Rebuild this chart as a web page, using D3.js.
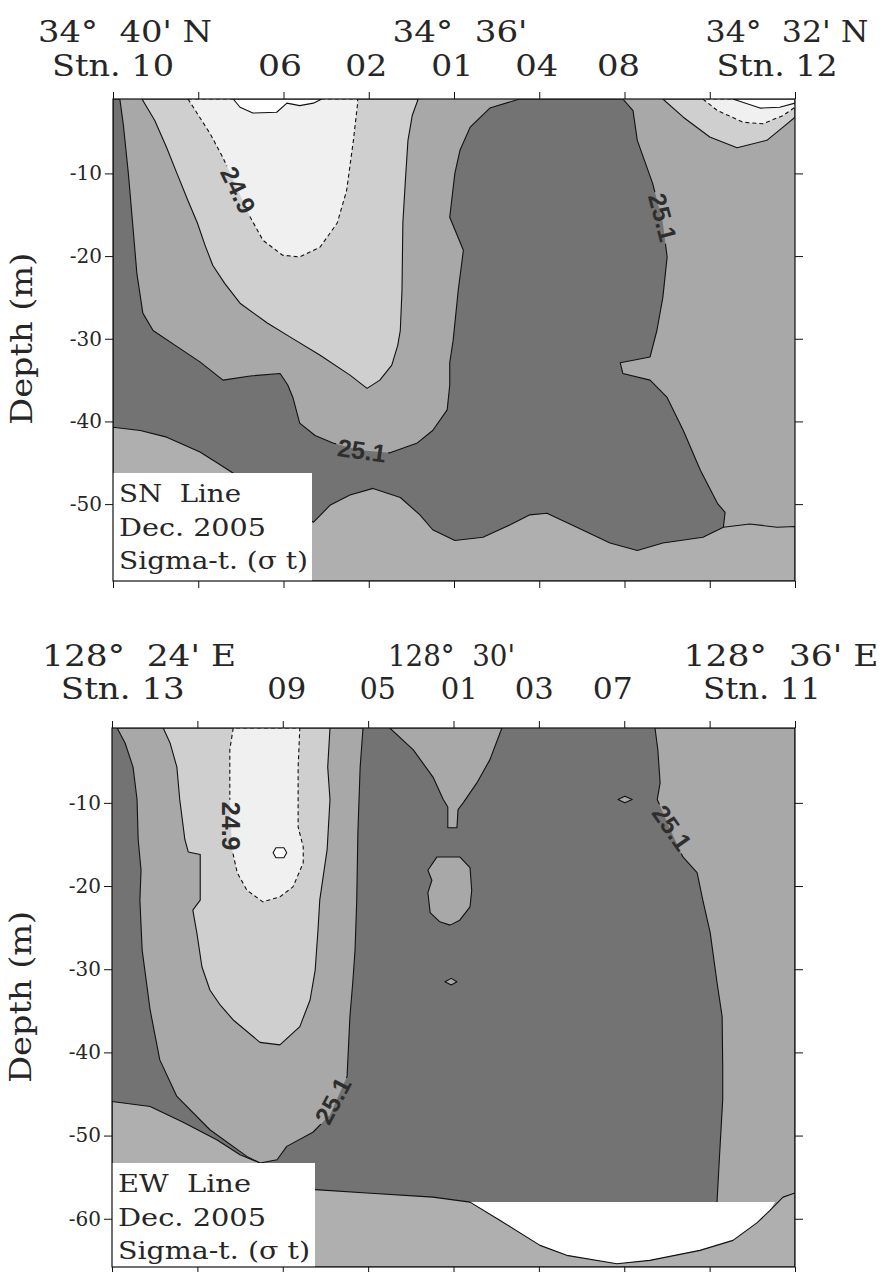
<!DOCTYPE html>
<html>
<head>
<meta charset="utf-8">
<script src="https://cdn.jsdelivr.net/npm/d3@7/dist/d3.min.js"></script>
<style>
  html, body { margin: 0; padding: 0; background: #fff; }
  svg { display: block; }
  text { white-space: pre; }
</style>
</head>
<body>
<svg id="chart" width="885" height="1272"></svg>
<script>
// ================= SN line (meridional section, latitude minutes past 34°N) =================
const snStationNames = ["Stn. 10", "06", "02", "01", "04", "08", "Stn. 12"];
const snStationLat   = [40.0, 38.04, 37.03, 36.02, 35.03, 34.07, 32.21];
const snCoordNames   = ["34°  40' N", "34°  36'", "34°  32' N"];
const snCoordLat     = [40, 36, 32];
const snDepthTicks   = [-10, -20, -30, -40, -50];
const snLegend       = ["SN  Line", "Dec. 2005", "Sigma-t. (σ t)"];

// isopycnal regions, points are [latitude minutes, depth m]
const snSigma251 = [[40,-1],[39.92,-1],[39.88,-4.0],[39.82,-10.0],[39.77,-16.0],[39.72,-22.1],[39.65,-26.9],
  [39.53,-29.0],[39.27,-30.8],[38.98,-32.8],[38.71,-35.0],[38.39,-34.5],[38.04,-34.2],[37.95,-35.6],
  [37.89,-37.1],[37.81,-40.2],[37.63,-41.7],[37.42,-42.6],[37.10,-43.5],[36.75,-43.8],[36.43,-42.6],
  [36.25,-41.1],[36.08,-38.6],[36.05,-35.6],[36.05,-32.9],[36.01,-30.2],[35.95,-24.1],[35.89,-19.3],
  [36.05,-15.3],[35.99,-10.0],[35.93,-7.2],[35.81,-4.4],[35.58,-2.1],[35.23,-1],[34.02,-1],[33.90,-2.4],
  [33.85,-6.0],[33.67,-11.2],[33.55,-16.0],[33.50,-20.1],[33.55,-25.0],[33.62,-29.0],[33.70,-32.2],
  [34.05,-32.9],[34.02,-34.2],[33.70,-35.0],[33.50,-37.1],[33.31,-41.1],[33.11,-45.9],[32.91,-49.9],
  [32.82,-51.0],[32.84,-52.8],[32.84,-59.3],[40,-59.3]];
const snSigma252 = [[40,-40.7],[39.68,-41.1],[39.37,-41.9],[38.98,-43.7],[38.78,-45.0],[38.28,-48.3],
  [37.81,-51.0],[37.65,-52.2],[37.45,-50.1],[37.22,-48.9],[36.95,-48.1],[36.63,-49.2],[36.40,-51.3],
  [36.25,-53.1],[35.99,-54.4],[35.66,-54.0],[35.34,-52.5],[35.11,-51.3],[34.91,-51.1],[34.56,-52.8],
  [34.17,-54.7],[33.85,-55.6],[33.55,-54.7],[33.08,-54.0],[32.84,-52.8],[32.53,-52.4],[32.21,-52.8],
  [32,-52.7],[32,-59.3],[40,-59.3]];
const snSigma250West = [[39.66,-1],[39.51,-3.6],[39.37,-6.9],[39.25,-10.0],[39.12,-13.3],[39.01,-16.0],
  [38.92,-18.7],[38.83,-21.1],[38.69,-23.3],[38.51,-25.7],[38.19,-28.1],[37.92,-29.8],[37.57,-32.0],
  [37.22,-34.4],[37.02,-36.0],[36.87,-35.0],[36.73,-33.2],[36.66,-30.8],[36.63,-29.0],[36.61,-24.1],
  [36.60,-16.0],[36.57,-10.8],[36.54,-6.0],[36.49,-3.0],[36.42,-1]];
const snSigma250East = [[33.55,-1],[33.31,-3.2],[33.00,-5.6],[32.68,-6.9],[32.33,-6.0],[32.14,-4.4],
  [32,-3.2],[32,-1]];
const snSigma249West = [[39.12,-1],[38.86,-5.2],[38.71,-8.1],[38.55,-11.7],[38.39,-15.3],[38.24,-18.1],
  [38.01,-19.9],[37.81,-20.1],[37.57,-18.9],[37.37,-16.0],[37.26,-12.1],[37.18,-6.0],[37.13,-1.5],[37.13,-1]];
const snSigma249East = [[33.08,-1],[32.91,-2.4],[32.61,-3.8],[32.38,-4.0],[32.14,-3.0],[32,-2.0],[32,-1]];
const snSigma248West = [[38.59,-1],[38.51,-2.0],[38.36,-2.7],[38.08,-2.6],[37.96,-1.5],[37.81,-1.8],
  [37.65,-1.5],[37.55,-1]];
const snSigma248East = [[32.73,-1],[32.41,-2.1],[32.18,-2.0],[32,-1.5],[32,-1]];
// contour labels: [sigma-t, latitude minutes, depth m]
const snContourLabels = [[24.9, 38.53, -12.0], [25.1, 33.55, -15.3], [25.1, 37.08, -43.5]];

// ================= EW line (zonal section, longitude minutes past 128°E) =================
const ewStationNames = ["Stn. 13", "09", "05", "01", "03", "07", "Stn. 11"];
const ewStationLon   = [24.19, 27.07, 28.67, 30.10, 31.42, 32.80, 35.42];
const ewCoordNames   = ["128°  24' E", "128°  30'", "128°  36' E"];
const ewCoordLon     = [24, 30, 36];
const ewDepthTicks   = [-10, -20, -30, -40, -50, -60];
const ewLegend       = ["EW  Line", "Dec. 2005", "Sigma-t. (σ t)"];

const ewSigma251Trough = [[24.09,-1.0],[24.23,-2.8],[24.37,-5.7],[24.44,-9.6],[24.46,-14.4],[24.51,-18.1],
  [24.49,-21.7],[24.53,-27.7],[24.67,-34.9],[24.84,-40.9],[25.14,-45.3],[25.72,-49.3],[26.37,-52.5],
  [26.60,-53.3],[26.90,-52.9],[27.07,-51.3],[27.53,-49.6],[27.83,-47.5],[28.13,-42.9],[28.18,-35.7],
  [28.23,-31.6],[28.27,-27.7],[28.30,-21.7],[28.32,-13.6],[28.36,-5.7],[28.41,-1.0]];
const ewSigma251Notch = [[28.88,-1],[29.29,-3.6],[29.64,-6.9],[29.82,-9.6],[29.90,-10.5],[29.90,-13.0],
  [30.06,-13.0],[30.08,-10.8],[30.17,-10.0],[30.41,-7.6],[30.64,-4.8],[30.85,-1]];
const ewSigma251Patch = [[29.71,-16.5],[30.11,-16.5],[30.29,-17.8],[30.32,-20.5],[30.29,-22.5],[30.11,-24.1],
  [29.94,-24.7],[29.76,-24.3],[29.59,-23.2],[29.55,-20.8],[29.62,-19.3],[29.55,-18.1]];
const ewSigma251East = [[33.54,-1],[33.59,-3.6],[33.63,-7.6],[33.58,-9.6],[33.77,-12.6],[34.03,-16.5],
  [34.28,-18.4],[34.38,-21.7],[34.51,-25.6],[34.63,-31.6],[34.72,-35.7],[34.73,-41.7],[34.73,-45.7],
  [34.68,-51.7],[34.63,-58.0],[34.63,-65.8],[36,-65.8],[36,-1]];
const ewSigma251SpotA = [[32.89,-9.6],[33.01,-9.2],[33.14,-9.6],[33.01,-10.0]];
const ewSigma251SpotB = [[29.85,-31.5],[29.96,-31.1],[30.06,-31.5],[29.96,-31.9]];
const ewSigma250 = [[24.90,-1],[25.02,-2.8],[25.14,-5.7],[25.19,-9.6],[25.28,-14.4],[25.34,-15.9],
  [25.55,-16.2],[25.55,-21.7],[25.42,-22.9],[25.49,-25.6],[25.58,-29.7],[25.72,-32.5],[25.90,-34.3],
  [26.13,-36.1],[26.60,-38.8],[26.95,-39.1],[27.30,-36.9],[27.48,-33.7],[27.57,-30.1],[27.62,-25.2],
  [27.65,-21.7],[27.78,-15.6],[27.83,-9.6],[27.79,-5.7],[27.83,-1]];
const ewSigma249 = [[26.13,-1],[26.07,-3.6],[26.07,-9.6],[26.11,-15.6],[26.20,-18.4],[26.37,-20.5],
  [26.65,-21.9],[26.95,-21.3],[27.18,-20.1],[27.36,-17.2],[27.36,-15.3],[27.27,-12.9],[27.27,-5.7],[27.30,-1]];
const ewSigma248 = [[26.83,-16.0],[26.88,-15.4],[27.02,-15.4],[27.07,-16.0],[27.02,-16.6],[26.88,-16.6]];
const ewBlank = [[30.29,-58.0],[30.82,-60.2],[31.52,-63.2],[31.99,-64.4],[32.87,-65.4],[33.45,-65.0],
  [34.33,-63.8],[34.91,-62.6],[35.33,-60.5],[35.56,-59.0],[35.65,-58.0]];
const ewSigma252 = [[24,-45.9],[24.67,-46.5],[25.25,-48.4],[25.84,-50.5],[26.25,-52.3],[26.60,-53.3],
  [27.13,-55.3],[27.57,-56.5],[28.48,-56.9],[29.64,-57.4],[30.29,-58.0],[30.82,-60.2],[31.52,-63.2],
  [31.99,-64.4],[32.87,-65.4],[33.45,-65.0],[34.33,-63.8],[34.91,-62.6],[35.33,-60.5],[35.56,-59.0],
  [35.79,-57.4],[36,-56.9],[36,-65.8],[24,-65.8]];
const ewContourLabels = [[24.9, 26.09, -12.8], [25.1, 33.84, -13.0], [25.1, 27.88, -45.8]];

// ================= drawing =================
const svg = d3.select("#chart");
const defs = svg.append("defs");

// grey shade for each sigma-t band
const bandFill = {
  lt248: "#ffffff", b248: "#f0f0f0", b249: "#cfcfcf", b250: "#a8a8a8",
  b251: "#737373", gt252: "#afafaf", blank: "#ffffff"
};
const serif = "'DejaVu Serif', 'Liberation Serif', serif";
const sans = "'Liberation Sans', Arial, sans-serif";
const ink = "#262626";

function drawSection(spec) {
  const x = d3.scaleLinear().domain(spec.xDomain).range([spec.left, spec.right]);
  const y = d3.scaleLinear().domain(spec.yDomain).range([spec.top, spec.bottom]);
  const W = spec.right - spec.left, H = spec.bottom - spec.top;

  defs.append("clipPath").attr("id", spec.id + "-clip")
    .append("rect").attr("x", spec.left).attr("y", spec.top).attr("width", W).attr("height", H);

  const mask = defs.append("mask").attr("id", spec.id + "-mask")
    .attr("maskUnits", "userSpaceOnUse").attr("x", 0).attr("y", 0).attr("width", 885).attr("height", 1272);
  mask.append("rect").attr("x", 0).attr("y", 0).attr("width", 885).attr("height", 1272).attr("fill", "white");

  const g = svg.append("g");
  const plot = g.append("g").attr("clip-path", `url(#${spec.id}-clip)`);

  plot.append("rect").attr("x", spec.left).attr("y", spec.top).attr("width", W).attr("height", H)
    .attr("fill", bandFill[spec.background]);

  const line = d3.line().x(d => x(d[0])).y(d => y(d[1])).curve(d3.curveLinearClosed);

  spec.layers.forEach(L => {
    plot.append("path").attr("d", line(L.pts)).attr("fill", bandFill[L.band]).attr("stroke", "none");
    if (L.stroke !== false) {
      plot.append("path").attr("d", line(L.pts)).attr("fill", "none")
        .attr("stroke", "#111").attr("stroke-width", 1.1)
        .attr("stroke-dasharray", L.dashed ? "4,3" : null)
        .attr("stroke-linejoin", "round")
        .attr("mask", `url(#${spec.id}-mask)`);
    }
  });

  // contour labels, with a gap cut into the isolines beneath them
  spec.labels.forEach((lab, i) => {
    const px = x(lab[1]), py = y(lab[2]);
    const rot = `translate(${px},${py}) rotate(${spec.labelAngles[i]})`;
    const t = plot.append("text")
      .attr("transform", rot)
      .attr("text-anchor", "middle").attr("dy", "0.36em")
      .attr("font-family", sans).attr("font-weight", "bold").attr("font-size", 25)
      .attr("fill", "#2e2e2e")
      .text(d3.format(".1f")(lab[0]));
    const w = t.node().getComputedTextLength() + 4;
    mask.append("rect").attr("x", -w / 2).attr("y", -11).attr("width", w).attr("height", 22)
      .attr("transform", rot).attr("fill", "black");
  });

  // legend box
  g.append("rect").attr("x", spec.left).attr("y", spec.legendTop)
    .attr("width", spec.legendWidth).attr("height", spec.bottom - spec.legendTop).attr("fill", "#fff");
  spec.legend.forEach((s, i) => {
    g.append("text").attr("x", spec.left + 6).attr("y", spec.legendTop + 29 + i * 33.5)
      .attr("font-family", serif).attr("font-size", 25).attr("fill", ink)
      .attr("textLength", spec.legendLengths[i]).attr("lengthAdjust", "spacingAndGlyphs")
      .text(s);
  });

  // frame and ticks
  const xTicks = d3.range(9).map(i => spec.xDomain[0] + (spec.xDomain[1] - spec.xDomain[0]) * i / 8);
  const axStyle = a => a.call(s => s.select(".domain").remove())
    .call(s => s.selectAll("line").attr("stroke", "#111"));
  g.append("g").attr("transform", `translate(0,${spec.top})`)
    .call(d3.axisTop(x).tickValues(xTicks).tickSize(7).tickFormat(""))
    .call(axStyle);
  g.append("g").attr("transform", `translate(0,${spec.bottom})`)
    .call(d3.axisBottom(x).tickValues(xTicks).tickSize(7).tickFormat(""))
    .call(axStyle);
  g.append("g").attr("transform", `translate(${spec.left},0)`)
    .call(d3.axisLeft(y).tickValues(spec.depthTicks).tickSize(8).tickPadding(3).tickFormat(d => String(d)))
    .call(axStyle)
    .call(s => s.selectAll("text").attr("font-family", serif).attr("font-size", 20).attr("fill", ink));
  g.append("g").attr("transform", `translate(${spec.right},0)`)
    .call(d3.axisRight(y).tickValues(spec.depthTicks).tickSize(8).tickFormat(""))
    .call(axStyle);
  g.append("rect").attr("x", spec.left).attr("y", spec.top).attr("width", W).attr("height", H)
    .attr("fill", "none").attr("stroke", "#111").attr("stroke-width", 1.2);

  // axis title
  const midY = (y(spec.depthTicks[0]) + y(spec.depthTicks[spec.depthTicks.length - 1])) / 2 + spec.titleShift;
  g.append("text")
    .attr("transform", `translate(${spec.left - 81},${midY}) rotate(-90)`)
    .attr("text-anchor", "middle").attr("font-family", serif).attr("font-size", 29).attr("fill", ink)
    .attr("textLength", 172).attr("lengthAdjust", "spacingAndGlyphs")
    .text("Depth (m)");

  // header: geographic coordinates and station names
  spec.coordNames.forEach((s, i) => {
    g.append("text").attr("x", x(spec.coordValues[i]) + spec.coordShift[i]).attr("y", spec.top - spec.headerRows[0])
      .attr("text-anchor", "middle").attr("font-family", serif).attr("font-size", 29).attr("fill", ink)
      .attr("textLength", spec.coordLengths[i]).attr("lengthAdjust", "spacingAndGlyphs")
      .text(s);
  });
  spec.stationNames.forEach((s, i) => {
    g.append("text").attr("x", x(spec.stationValues[i])).attr("y", spec.top - spec.headerRows[1])
      .attr("text-anchor", "middle").attr("font-family", serif).attr("font-size", 29).attr("fill", ink)
      .attr("textLength", spec.stationLengths[i]).attr("lengthAdjust", "spacingAndGlyphs")
      .text(s);
  });
}

drawSection({
  id: "sn", left: 113, right: 795, top: 99, bottom: 581,
  xDomain: [40, 32], yDomain: [-1, -59.3],
  depthTicks: snDepthTicks, titleShift: 0,
  background: "b250",
  layers: [
    { pts: snSigma251, band: "b251" },
    { pts: snSigma252, band: "gt252" },
    { pts: snSigma250West, band: "b249" },
    { pts: snSigma250East, band: "b249" },
    { pts: snSigma249West, band: "b248", dashed: true },
    { pts: snSigma249East, band: "b248", dashed: true },
    { pts: snSigma248West, band: "lt248" },
    { pts: snSigma248East, band: "lt248" }
  ],
  labels: snContourLabels, labelAngles: [64, 75, 8],
  legend: snLegend, legendTop: 473, legendWidth: 199, legendLengths: [122, 147, 189],
  headerRows: [57, 23],
  coordNames: snCoordNames, coordValues: snCoordLat, coordShift: [12, 6, -8],
  coordLengths: [174, 135, 163],
  stationNames: snStationNames, stationValues: snStationLat,
  stationLengths: [122, 44, 42, 42, 43, 43, 121]
});

drawSection({
  id: "ew", left: 112, right: 795, top: 728, bottom: 1267,
  xDomain: [24, 36], yDomain: [-1, -65.8],
  depthTicks: ewDepthTicks, titleShift: -14,
  background: "b251",
  layers: [
    { pts: ewSigma251Trough, band: "b250" },
    { pts: ewSigma251Notch, band: "b250" },
    { pts: ewSigma251Patch, band: "b250" },
    { pts: ewSigma251East, band: "b250" },
    { pts: ewSigma250, band: "b249" },
    { pts: ewSigma249, band: "b248", dashed: true },
    { pts: ewSigma248, band: "lt248" },
    { pts: ewSigma251SpotA, band: "b250" },
    { pts: ewSigma251SpotB, band: "b250" },
    { pts: ewBlank, band: "blank", stroke: false },
    { pts: ewSigma252, band: "gt252" }
  ],
  labels: ewContourLabels, labelAngles: [90, 55, -62],
  legend: ewLegend, legendTop: 1163, legendWidth: 203, legendLengths: [133, 148, 192],
  headerRows: [62, 29],
  coordNames: ewCoordNames, coordValues: ewCoordLon, coordShift: [27, -2, -14],
  coordLengths: [194, 127, 195],
  stationNames: ewStationNames, stationValues: ewStationLon,
  stationLengths: [124, 39, 36, 37, 39, 40, 118]
});
</script>
</body>
</html>
